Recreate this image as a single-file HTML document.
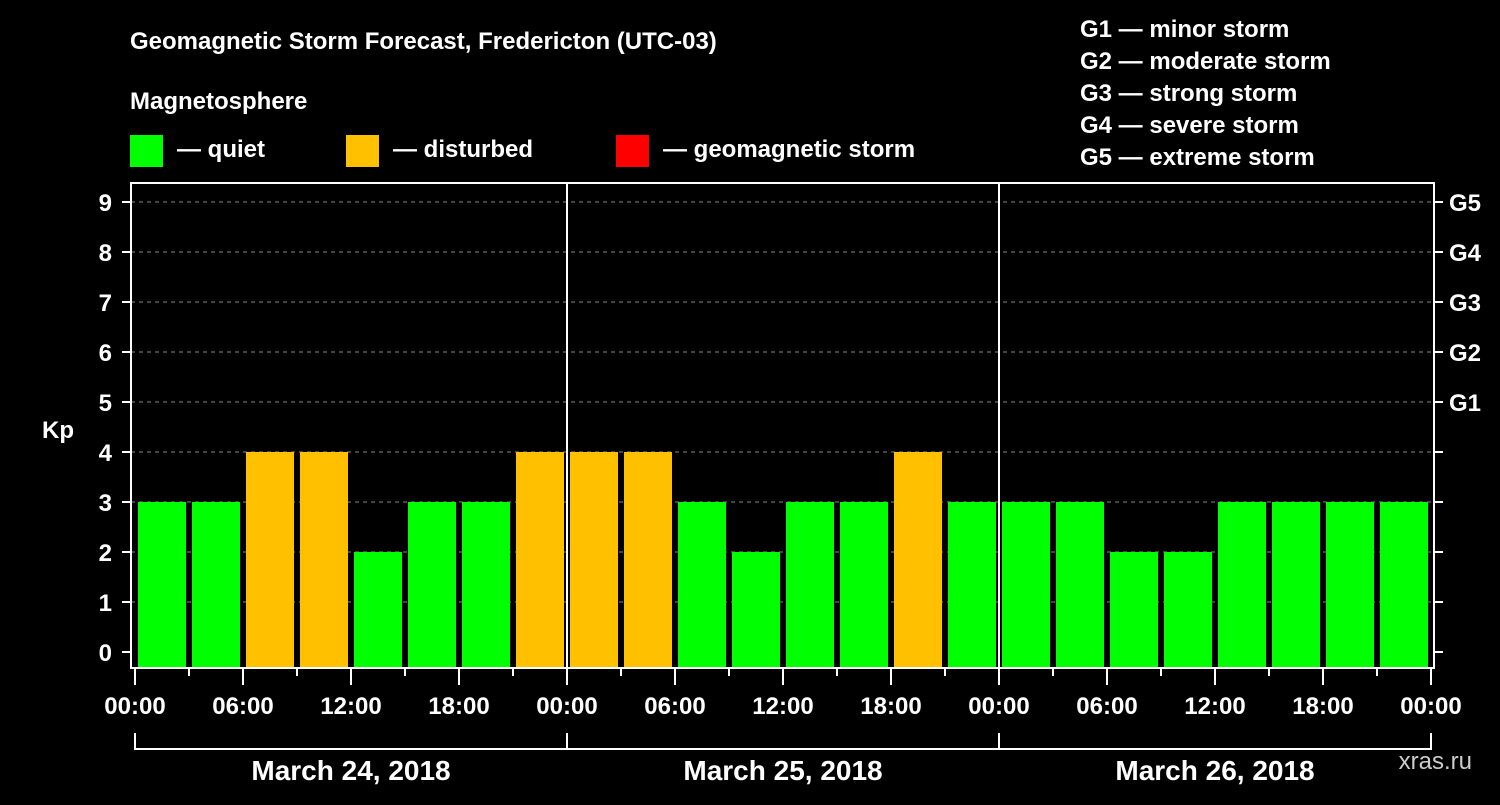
<!DOCTYPE html>
<html><head><meta charset="utf-8"><style>
body{margin:0;background:#000;}
svg text{font-family:"Liberation Sans",sans-serif;font-weight:bold;fill:#fff;}
</style></head><body>
<svg id="c" width="1500" height="800" xmlns="http://www.w3.org/2000/svg">
<rect width="1500" height="800" fill="#000"/>
<text x="130" y="49" font-size="24">Geomagnetic Storm Forecast, Fredericton (UTC-03)</text>
<text x="130" y="109" font-size="24">Magnetosphere</text>
<g><rect x="130" y="135" width="33" height="32" fill="#00ff00"/><text x="177" y="157" font-size="24">— quiet</text></g>
<g><rect x="346" y="135" width="33" height="32" fill="#ffc000"/><text x="393" y="157" font-size="24">— disturbed</text></g>
<g><rect x="616" y="135" width="33" height="32" fill="#ff0000"/><text x="663" y="157" font-size="24">— geomagnetic storm</text></g>
<g font-size="24">
<text x="1080" y="37">G1 — minor storm</text>
<text x="1080" y="69">G2 — moderate storm</text>
<text x="1080" y="101">G3 — strong storm</text>
<text x="1080" y="133">G4 — severe storm</text>
<text x="1080" y="165">G5 — extreme storm</text>
</g>
<text x="42" y="438" font-size="24">Kp</text>
<text x="1472" y="769" font-size="24" text-anchor="end" fill="#ccc" style="fill:#ccc;font-weight:normal">xras.ru</text>
<g id="plot"></g>
</svg>
<script>
const kpValues=[3,3,4,4,2,3,3,4, 4,4,3,2,3,3,4,3, 3,3,2,2,3,3,3,3];
const yTicks=[0,1,2,3,4,5,6,7,8,9];
const gLabels=["G1","G2","G3","G4","G5"];
const hourLabels=["00:00","06:00","12:00","18:00"];
const dayLabels=["March 24, 2018","March 25, 2018","March 26, 2018"];
const NS="http://www.w3.org/2000/svg";
const X0=135,SLOT=54,Y0=652,UNIT=50,TOP=183,BOT=668,LEFT=131,RIGHT=1434;
const xs=i=>X0+i*SLOT;
const ys=v=>Y0-v*UNIT;
const g=document.getElementById('plot');
function mk(tag,attrs,txt){const e=document.createElementNS(NS,tag);for(const k in attrs)e.setAttribute(k,attrs[k]);if(txt!==undefined)e.textContent=txt;g.appendChild(e);return e;}
yTicks.forEach(v=>{
 if(v>0){const l=mk('line',{x1:LEFT,x2:RIGHT,y1:ys(v),y2:ys(v),stroke:'#888','stroke-dasharray':'4,4','stroke-width':1});
 
 }
 const t=mk('line',{x1:LEFT-9,x2:LEFT,y1:ys(v),y2:ys(v),stroke:'#fff','stroke-width':2});
 
 
 const t2=mk('line',{x1:RIGHT,x2:RIGHT+9,y1:ys(v),y2:ys(v),stroke:'#fff','stroke-width':2});
 
 
 const lb=mk('text',{x:112,y:ys(v)+9,'font-size':24,'text-anchor':'end'},String(v));
 
 
});
gLabels.forEach((s,i)=>{
 const lb=mk('text',{x:1449,y:ys(5+i)+9,'font-size':24},s);
 
 
});
kpValues.forEach((v,i)=>{
 const col=v>=5?'#ff0000':(v>=4?'#ffc000':'#00ff00');
 const r=mk('rect',{x:xs(i)+3,y:ys(v),width:48,height:BOT-1-ys(v),fill:col});
 
 
});
for(let i=0;i<=24;i++){
 const major=i%2===0;
 const t=mk('line',{x1:xs(i),x2:xs(i),y1:BOT,y2:BOT+(major?17:8),stroke:'#fff','stroke-width':2});
 
 
 if(major){const lb=mk('text',{x:xs(i),y:714,'font-size':24,'text-anchor':'middle'},hourLabels[(i/2)%4]);
 
 }
}
dayLabels.forEach((d,k)=>{
 if(k>0){const l=mk('line',{x1:xs(k*8),x2:xs(k*8),y1:TOP,y2:BOT,stroke:'#fff','stroke-width':2});
 
 }
 const lb=mk('text',{x:(xs(k*8)+xs(k*8+8))/2,y:780,'font-size':28,'text-anchor':'middle'},d);
 
 
});
const br=mk('path',{d:`M${xs(0)} 733V749H${xs(24)}V733M${xs(8)} 733V749M${xs(16)} 733V749`,stroke:'#fff','stroke-width':2,fill:'none'});


const fr=mk('rect',{x:LEFT,y:TOP,width:RIGHT-LEFT,height:BOT-TOP,fill:'none',stroke:'#fff','stroke-width':2});


</script>
</body></html>
